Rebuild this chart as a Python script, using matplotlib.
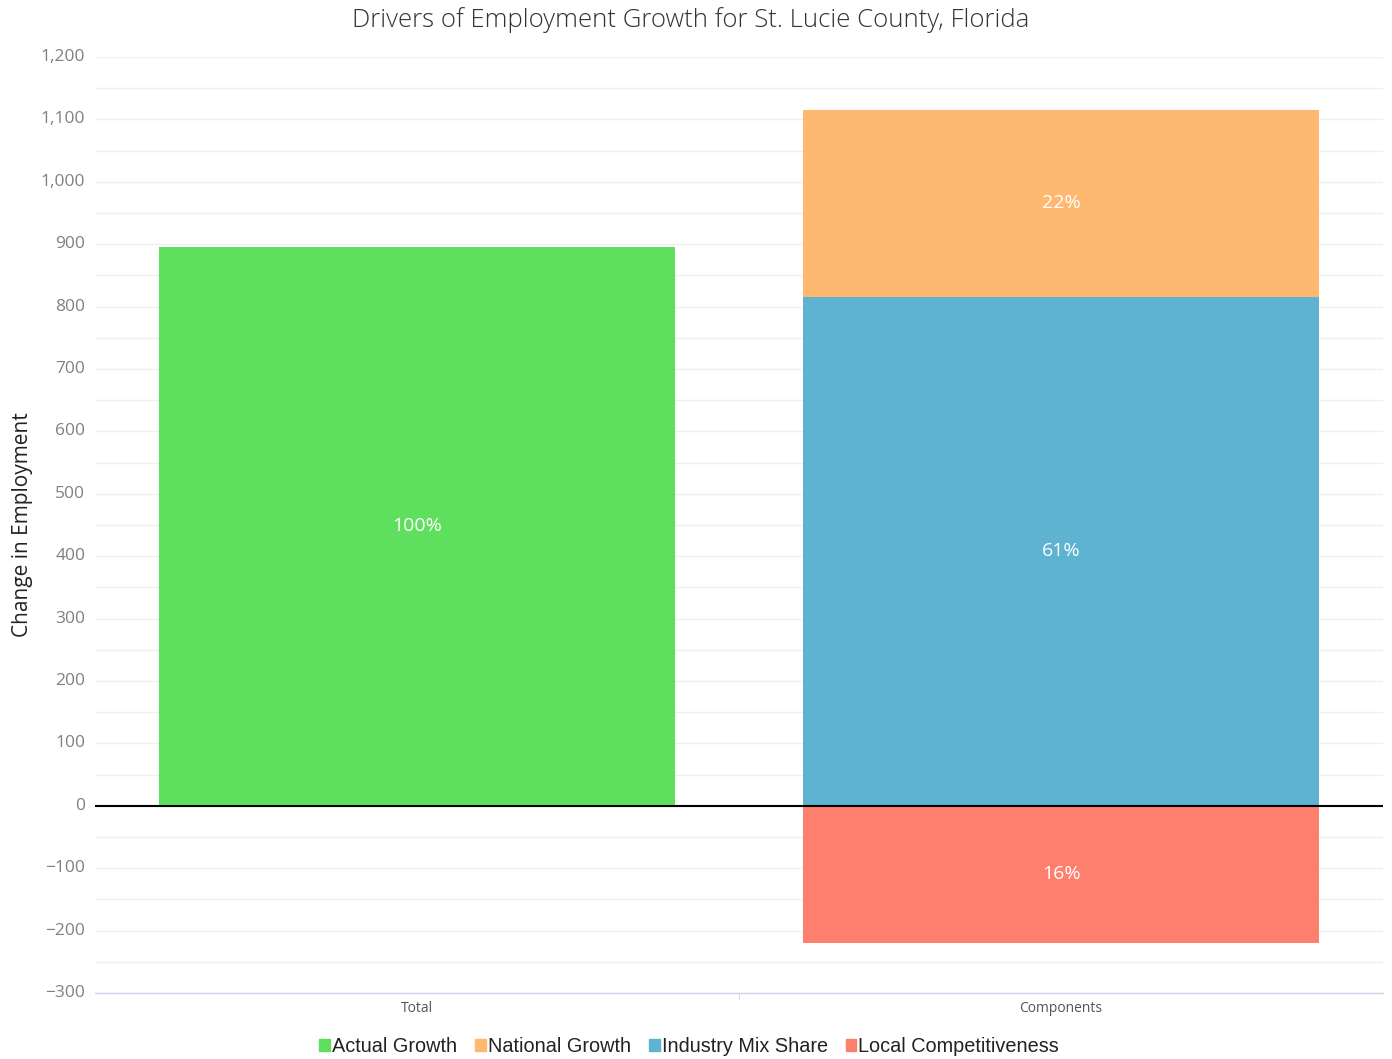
import matplotlib
matplotlib.use("Agg")
import matplotlib.pyplot as plt
from matplotlib.patches import Patch
from matplotlib.ticker import FuncFormatter, MultipleLocator

categories = ["Total", "Components"]
series_names = ["Actual Growth", "National Growth", "Industry Mix Share", "Local Competitiveness"]
actual_growth = [896, 0]
industry_mix = [0, 816]
national_growth = [0, 299]
local_comp = [0, -220]
pct_labels = {"Actual Growth": "100%", "National Growth": "22%",
              "Industry Mix Share": "61%", "Local Competitiveness": "16%"}
colors = {"Actual Growth": "#5EDF5E", "National Growth": "#FFB870",
          "Industry Mix Share": "#5DB3D0", "Local Competitiveness": "#FF7F6F"}

plt.rcParams['font.family'] = ['Open Sans', 'DejaVu Sans']

fig = plt.figure(figsize=(13.92, 10.59), dpi=100)
ax = fig.add_axes([95/1392, 1 - 993/1059, (1383-95)/1392, (993-57)/1059])

x = list(range(len(categories)))
w = 0.8
b1 = ax.bar(x, actual_growth, w, color=colors["Actual Growth"], zorder=2)
b2 = ax.bar(x, industry_mix, w, color=colors["Industry Mix Share"], zorder=2)
b3 = ax.bar(x, national_growth, w, bottom=industry_mix, color=colors["National Growth"], zorder=2)
b4 = ax.bar(x, local_comp, w, color=colors["Local Competitiveness"], zorder=2)

def label(bars, bottoms, vals, text):
    for bar, b, v in zip(bars, bottoms, vals):
        if v != 0:
            ax.text(bar.get_x() + bar.get_width()/2, b + v/2, text, ha='center', va='center',
                    color='white', fontsize=14, zorder=3)

label(b1, [0, 0], actual_growth, pct_labels["Actual Growth"])
label(b2, [0, 0], industry_mix, pct_labels["Industry Mix Share"])
label(b3, industry_mix, national_growth, pct_labels["National Growth"])
label(b4, [0, 0], local_comp, pct_labels["Local Competitiveness"])

ax.set_xlim(-0.5, 1.5)
ax.set_ylim(-300, 1200)
ax.yaxis.set_major_locator(MultipleLocator(100))
ax.yaxis.set_minor_locator(MultipleLocator(50))
ax.yaxis.set_major_formatter(FuncFormatter(lambda v, p: f"{int(v):,}".replace("-", "\u2212")))
ax.grid(axis='y', which='both', color='#efefef', linewidth=1, zorder=0)
ax.axhline(0, color='black', linewidth=1.5, zorder=4)

for s in ['top', 'right', 'left']:
    ax.spines[s].set_visible(False)
ax.spines['bottom'].set_color('#ccd6eb')
ax.spines['bottom'].set_linewidth(1)

ax.tick_params(axis='y', which='both', length=0, labelsize=12.5, labelcolor='#808080', pad=7)
ax.set_xticks(x)
ax.set_xticklabels(categories)
ax.tick_params(axis='x', which='major', length=0, labelsize=10, labelcolor='#555555', pad=6)
ax.set_xticks([0.5], minor=True)
ax.tick_params(axis='x', which='minor', length=5, color='#ccd6eb', direction='out')
for t in ax.get_yticklabels():
    t.set_verticalalignment('center')

ax.set_ylabel("Change in Employment", fontsize=15, color='#222222')
ax.yaxis.set_label_coords(-0.048, 0.5)
fig.text(0.496, 1 - 20/1059, "Drivers of Employment Growth for St. Lucie County, Florida",
         ha='center', va='center', fontsize=18.5, color='#333333', fontweight='light')

handles = [Patch(color=colors[n]) for n in series_names]
leg = fig.legend(handles, series_names, loc='center', bbox_to_anchor=(0.495, 1 - 1047/1059),
                 ncol=4, frameon=False, handlelength=0.55, handleheight=0.55, handletextpad=0.1,
                 columnspacing=0.9, prop={'family': ['Liberation Sans Narrow', 'Liberation Sans'], 'size': 14.3})
for t in leg.get_texts():
    t.set_color('#222222')

fig.savefig("out.png", dpi=100)
